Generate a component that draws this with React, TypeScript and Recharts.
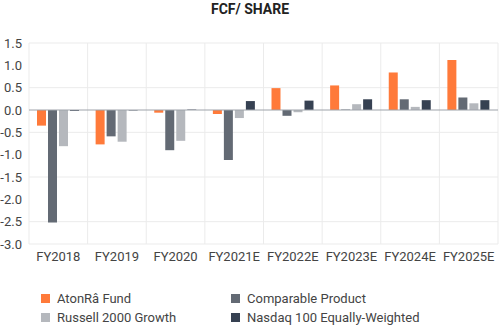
import React from 'react';
import { BarChart, Bar, XAxis, YAxis, CartesianGrid, ReferenceLine } from 'recharts';

const years = ['FY2018', 'FY2019', 'FY2020', 'FY2021E', 'FY2022E', 'FY2023E', 'FY2024E', 'FY2025E'];
const atonra = [-0.35, -0.77, -0.06, -0.09, 0.49, 0.55, 0.84, 1.12];
const comparable = [-2.52, -0.59, -0.9, -1.12, -0.13, 0.01, 0.24, 0.28];
const russell = [-0.81, -0.71, -0.69, -0.18, -0.05, 0.13, 0.07, 0.15];
const nasdaq = [-0.02, -0.01, 0.01, 0.2, 0.21, 0.24, 0.22, 0.22];
const yTicks = [-3, -2.5, -2, -1.5, -1, -0.5, 0, 0.5, 1, 1.5];

const series = [
  { key: 'atonra', name: 'AtonRâ Fund', color: '#ff7a3a' },
  { key: 'comparable', name: 'Comparable Product', color: '#636a74' },
  { key: 'russell', name: 'Russell 2000 Growth', color: '#b5b8bd' },
  { key: 'nasdaq', name: 'Nasdaq 100 Equally-Weighted', color: '#364152' },
];

const data = years.map((y, i) => ({
  year: y,
  atonra: atonra[i],
  comparable: comparable[i],
  russell: russell[i],
  nasdaq: nasdaq[i],
}));

const font = 'Roboto, "Noto Sans", sans-serif';

export default function App() {
  // gridlines sit between categories, not on them
  const boundaries = ({ offset }: any) => {
    const step = offset.width / years.length;
    return Array.from({ length: years.length + 1 }, (_, i) => offset.left + i * step);
  };

  return (
    <div style={{ position: 'absolute', left: 0, top: 0, width: 500, height: 326, background: '#fff', fontFamily: font }}>
      <div style={{ position: 'absolute', top: 1, width: 500, textAlign: 'center', fontSize: 14, fontWeight: 700, color: '#222' }}>
        FCF/ SHARE
      </div>
      <BarChart
        width={500}
        height={280}
        data={data}
        margin={{ top: 43, right: 2, left: 0, bottom: 6 }}
        barSize={9}
        barGap={2}
      >
        <CartesianGrid stroke="#ebebeb" verticalCoordinatesGenerator={boundaries} />
        <XAxis
          dataKey="year"
          height={30}
          axisLine={false}
          tickLine={false}
          tick={{ fontSize: 13, fill: '#444', fontFamily: font }}
          interval={0}
        />
        <YAxis
          width={29}
          domain={[-3, 1.5]}
          ticks={yTicks}
          tickFormatter={(v: number) => v.toFixed(1)}
          axisLine={false}
          tickLine={false}
          tickMargin={1}
          tick={{ fontSize: 13, fill: '#444', fontFamily: font }}
        />
        <ReferenceLine y={0} stroke="#9ea3aa" />
        {series.map(s => (
          <Bar key={s.key} dataKey={s.key} name={s.name} fill={s.color} isAnimationActive={false} />
        ))}
      </BarChart>
      <div style={{ position: 'absolute', left: 41, top: 290, display: 'grid', gridTemplateColumns: '190px 260px', rowGap: 2, fontSize: 13, color: '#444' }}>
        {series.map(s => (
          <div key={s.key} style={{ display: 'flex', alignItems: 'center', height: 17 }}>
            <span style={{ width: 9, height: 9, background: s.color, marginRight: 7, display: 'inline-block' }} />
            {s.name}
          </div>
        ))}
      </div>
    </div>
  );
}
